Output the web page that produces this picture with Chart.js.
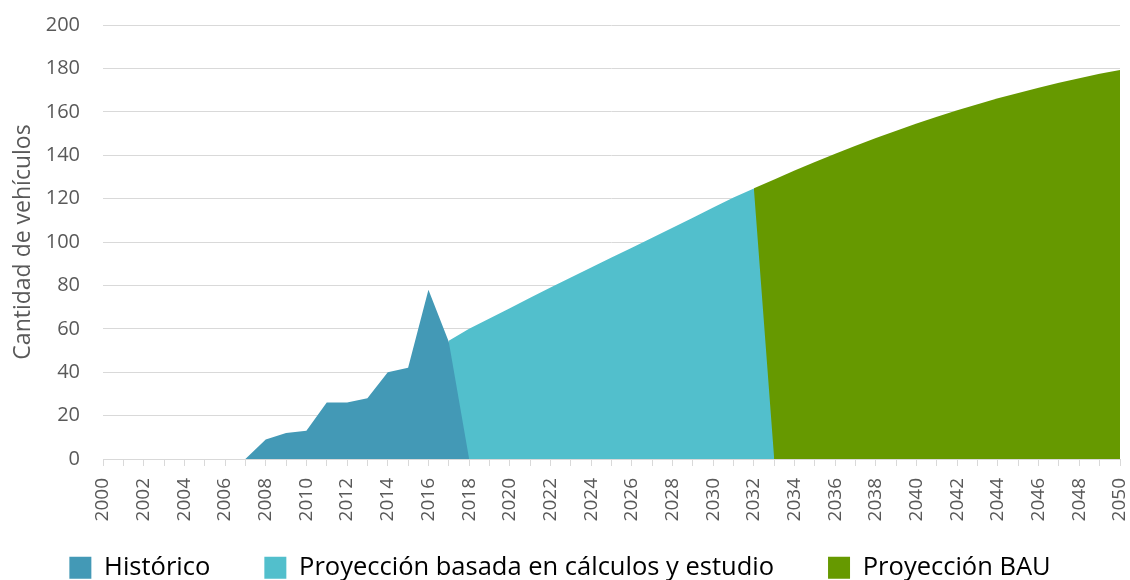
<!DOCTYPE html>
<html>
<head>
<meta charset="utf-8">
<script src="https://cdn.jsdelivr.net/npm/chart.js@4/dist/chart.umd.min.js"></script>
<style>
  html, body { margin: 0; padding: 0; background: #fff; }
  #wrap { width: 1130px; height: 580px; position: relative; }
</style>
</head>
<body>
<div id="wrap"><canvas id="c" width="1130" height="580"></canvas></div>
<script>
const years = [2000,2001,2002,2003,2004,2005,2006,2007,2008,2009,2010,2011,2012,2013,2014,2015,2016,2017,2018,2019,2020,2021,2022,2023,2024,2025,2026,2027,2028,2029,2030,2031,2032,2033,2034,2035,2036,2037,2038,2039,2040,2041,2042,2043,2044,2045,2046,2047,2048,2049,2050];

// Histórico: 2000–2018
const historico = [0,0,0,0,0,0,0,0,9,12,13,26,26,28,40,42,78,54,0];
// Proyección basada en cálculos y estudio: 2017–2033
const proyeccionEstudio = [54.5,60,64.8,69.5,74.3,79,83.6,88.2,92.8,97.4,102,106.6,111.2,115.9,120.5,124.7,0];
// Proyección BAU: 2032–2050
const proyeccionBAU = [124.7,128.8,132.9,136.9,140.7,144.4,147.9,151.3,154.6,157.7,160.7,163.5,166.2,168.7,171.1,173.4,175.5,177.5,179.3];

const yTicks = [0,20,40,60,80,100,120,140,160,180,200];

const seriesNames = ['Histórico', 'Proyección basada en cálculos y estudio', 'Proyección BAU'];
const colors = ['#4399B6', '#52BFCC', '#669900'];

function place(values, startYear) {
  const arr = years.map(() => null);
  const off = years.indexOf(startYear);
  values.forEach((v, i) => { arr[off + i] = v; });
  return arr;
}

const FONT = "'Open Sans', 'DejaVu Sans', sans-serif";
const CANVAS_H = 580;
const CHART_TOP = 25;
const CHART_BOTTOM = 459;
const LEGEND_PAD = 54;
const LEGEND_ITEM_TOP = 555;
const LEGEND_MAX_H = 40;

function ds(label, data, color) {
  return {
    label, data,
    backgroundColor: color,
    borderColor: color,
    borderWidth: 0,
    pointRadius: 0,
    pointHoverRadius: 0,
    fill: 'origin',
    tension: 0,
    spanGaps: false
  };
}

// moves the legend row to its vertical position after layout
const legendShift = {
  id: 'legendShift',
  afterLayout(chart) {
    const lg = chart.legend;
    if (!lg) return;
    lg.top = LEGEND_ITEM_TOP - LEGEND_PAD;
    lg.bottom = CANVAS_H;
    lg.height = lg.bottom - lg.top;
  }
};

new Chart(document.getElementById('c'), {
  type: 'line',
  data: {
    labels: years.map(String),
    datasets: [
      ds(seriesNames[0], place(historico, 2000), colors[0]),
      ds(seriesNames[1], place(proyeccionEstudio, 2017), colors[1]),
      ds(seriesNames[2], place(proyeccionBAU, 2032), colors[2])
    ]
  },
  plugins: [legendShift],
  options: {
    responsive: false,
    animation: false,
    events: [],
    layout: { padding: { top: CHART_TOP, right: 10, left: 0, bottom: 0 } },
    plugins: {
      tooltip: { enabled: false },
      legend: {
        position: 'bottom',
        align: 'center',
        maxHeight: LEGEND_MAX_H,
        labels: {
          boxWidth: 22,
          boxHeight: 22,
          padding: LEGEND_PAD,
          color: '#000',
          font: { family: FONT, size: 25.5 }
        }
      }
    },
    scales: {
      x: {
        offset: false,
        grid: {
          display: true,
          drawOnChartArea: false,
          drawTicks: true,
          tickLength: 7,
          color: '#d9d9d9',
          lineWidth: 1
        },
        border: { display: true, color: '#d9d9d9', width: 1 },
        ticks: {
          autoSkip: false,
          minRotation: 90,
          maxRotation: 90,
          padding: 12,
          color: '#595959',
          font: { family: FONT, size: 19 },
          callback: function (val, idx) {
            const y = years[idx];
            return (y % 2 === 0) ? String(y) : '';
          }
        },
        afterFit: function (scale) {
          const lh = scale.chart.legend ? scale.chart.legend.height : 0;
          scale.height = CANVAS_H - CHART_BOTTOM - lh;
          scale.paddingLeft = 0;
          scale.paddingRight = 0;
        }
      },
      y: {
        min: 0,
        max: 200,
        afterBuildTicks: function (scale) {
          scale.ticks = yTicks.map(v => ({ value: v }));
        },
        grid: {
          color: '#d9d9d9',
          lineWidth: 1,
          drawTicks: false
        },
        border: { display: false },
        ticks: {
          padding: 23,
          color: '#595959',
          font: { family: FONT, size: 20 }
        },
        title: {
          display: true,
          text: 'Cantidad de vehículos',
          color: '#595959',
          font: { family: FONT, size: 23 },
          padding: { top: 10, bottom: 0 }
        },
        afterFit: function (scale) {
          scale.width = 103;
          scale.paddingTop = 0;
          scale.paddingBottom = 0;
        }
      }
    }
  }
});
</script>
</body>
</html>
